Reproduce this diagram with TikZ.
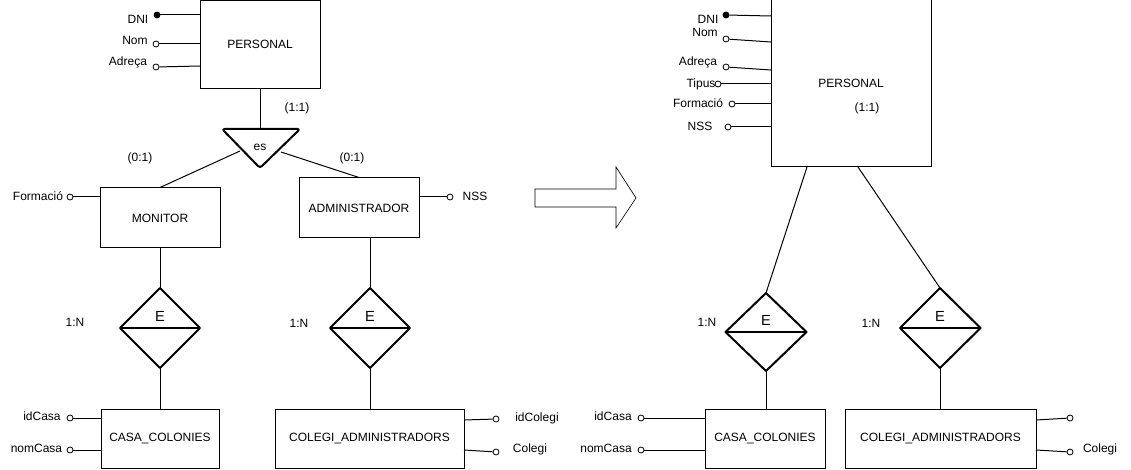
\documentclass[tikz,border=0pt]{standalone}
\usepackage{fontspec}
\setmainfont{Liberation Sans}
\begin{document}
\begin{tikzpicture}[x=0.75pt,y=-0.75pt,
  font=\fontsize{9pt}{11pt}\selectfont,
  ent/.style={draw, line width=0.75pt, inner sep=0pt},
  att/.style={circle, draw, line width=0.6pt, fill=white, inner sep=0pt, minimum size=4.5pt},
  keyatt/.style={att, fill=black},
  lbl/.style={inner sep=0pt, text height=6.5pt, text depth=1.8pt},
  ln/.style={line width=0.75pt},
  rel/.style={line width=1.5pt, line join=round},
  mid/.style={line width=1.1pt},
  bigE/.style={lbl, font=\fontsize{11pt}{13pt}\selectfont}]
\useasboundingbox (0,0) rectangle (1131,470);

% ---------------- LEFT ----------------
\node[ent, minimum width=90pt, minimum height=66pt] (p1) at (260,44.5) {PERSONAL};
\node[keyatt] (a1) at (157,15) {};
\node[lbl] (t1) at (138,20) {DNI};
\draw[ln] (a1) -- (p1.west |- a1);
\node[att] (a2) at (156,44) {};
\node[lbl] (t2) at (135,41) {Nom};
\draw[ln] (a2) -- (p1.west |- a2);
\node[att] (a3) at (156,67) {};
\node[lbl] (t3) at (128,62) {Adreça};
\coordinate (a3e) at (200,66);
\draw[ln] (a3) -- (a3e);

% ISA triangle
\coordinate (tl) at (222,129);
\coordinate (tr) at (300,129);
\coordinate (tb) at (260,168);
\draw[rel, rounded corners=2pt] (tl) -- (tr) -- (tb) -- cycle;
\node[lbl] (es) at (260,147) {es};
\draw[ln] (p1.south) -- (p1.south |- tl);
\coordinate (tsl) at (240,151);
\coordinate (tsr) at (281,152);
\node[lbl] (c11) at (297,108) {(1:1)};
\node[lbl] (c01a) at (140,158) {(0:1)};
\node[lbl] (c01b) at (352,158) {(0:1)};

\node[ent, minimum width=90pt, minimum height=45pt] (mon) at (160,218) {MONITOR};
\node[ent, minimum width=90pt, minimum height=45pt] (adm) at (359,208) {ADMINISTRADOR};
\draw[ln] (tsl) -- (mon.north);
\draw[ln] (tsr) -- (adm.north);

\node[att] (fo1) at (70,197) {};
\node[lbl] (tfo1) at (38,197) {Formació};
\draw[ln] (fo1) -- (mon.west |- fo1);
\node[att] (nss1) at (450,197) {};
\node[lbl] (tnss1) at (475,197) {NSS};
\draw[ln] (adm.east |- nss1) -- (nss1);

% diamonds
\coordinate (d1t) at (160,288); \coordinate (d1b) at (160,368);
\coordinate (d1l) at (120,328); \coordinate (d1r) at (200,328);
\draw[rel] (d1l) -- (d1t) -- (d1r) -- (d1b) -- cycle;
\draw[mid] (d1l) -- (d1r);
\node[bigE] (e1) at (160,318) {E};
\node[lbl] (n1) at (75,323) {1:N};

\coordinate (d2t) at (370,288); \coordinate (d2b) at (370,368);
\coordinate (d2l) at (330,328); \coordinate (d2r) at (410,328);
\draw[rel] (d2l) -- (d2t) -- (d2r) -- (d2b) -- cycle;
\draw[mid] (d2l) -- (d2r);
\node[bigE] (e2) at (370,318) {E};
\node[lbl] (n2) at (299,324) {1:N};

\node[ent, minimum width=88.5pt, minimum height=44.25pt] (casa1) at (160,438.5) {CASA\_COLONIES};
\node[ent, minimum width=141.75pt, minimum height=44.25pt] (col1) at (369.5,438.5) {COLEGI\_ADMINISTRADORS};
\draw[ln] (mon.south) -- (d1t);
\draw[ln] (d1b) -- (casa1.north);
\draw[ln] (d2t |- adm.south) -- (d2t);
\draw[ln] (d2b) -- (d2b |- col1.north);

\node[att] (ic1) at (70,418) {};
\node[lbl] (tic1) at (42,417) {idCasa};
\draw[ln] (ic1) -- (casa1.west |- ic1);
\node[att] (nc1) at (70,450) {};
\node[lbl] (tnc1) at (36.5,449) {nomCasa};
\draw[ln] (nc1) -- (casa1.west |- nc1);

\node[att] (ig1) at (496,419) {};
\node[lbl] (tig1) at (537,418) {idColegi};
\coordinate (ig1s) at (464,420);
\draw[ln] (ig1s) -- (ig1);
\node[att] (cg1) at (496,452) {};
\node[lbl] (tcg1) at (530,449) {Colegi};
\coordinate (cg1s) at (464,450);
\draw[ln] (cg1s) -- (cg1);

% ---------------- ARROW ----------------
\draw[line width=0.5pt, line join=miter] (535,189) -- (616,189) -- (616,167) -- (636,198) -- (616,228) -- (616,207) -- (535,207) -- cycle;

% ---------------- RIGHT ----------------
\node[ent, minimum width=120pt, minimum height=125.25pt] (p2) at (851,83.5) {PERSONAL};
\node[lbl] (c11b) at (867,108) {(1:1)};

\node[keyatt] (b1) at (726,15) {};
\node[lbl] (u1) at (708,20) {DNI};
\coordinate (b1e) at (771,16);
\draw[ln] (b1) -- (b1e);
\node[att] (b2) at (726,39) {};
\node[lbl] (u2) at (705,33) {Nom};
\coordinate (b2e) at (771,42);
\draw[ln] (b2) -- (b2e);
\node[att] (b3) at (726,67) {};
\node[lbl] (u3) at (698,62) {Adreça};
\coordinate (b3e) at (771,70);
\draw[ln] (b3) -- (b3e);
\node[att] (b4) at (718,84) {};
\node[lbl] (u4) at (701,84) {Tipus};
\draw[ln] (b4) -- (p2.west |- b4);
\node[att] (b5) at (732,104) {};
\node[lbl] (u5) at (698,104) {Formació};
\draw[ln] (b5) -- (p2.west |- b5);
\node[att] (b6) at (728,127) {};
\node[lbl] (u6) at (700,127) {NSS};
\draw[ln] (b6) -- (p2.west |- b6);

\coordinate (d3t) at (766,293); \coordinate (d3b) at (766,371);
\coordinate (d3l) at (725.5,332); \coordinate (d3r) at (806.5,332);
\draw[rel] (d3l) -- (d3t) -- (d3r) -- (d3b) -- cycle;
\draw[mid] (d3l) -- (d3r);
\node[bigE] (e3) at (766,322) {E};
\node[lbl] (n3) at (707,323) {1:N};

\coordinate (d4t) at (940,288); \coordinate (d4b) at (940,368);
\coordinate (d4l) at (900,328); \coordinate (d4r) at (980.5,328);
\draw[rel] (d4l) -- (d4t) -- (d4r) -- (d4b) -- cycle;
\draw[mid] (d4l) -- (d4r);
\node[bigE] (e4) at (940,318) {E};
\node[lbl] (n4) at (871,324) {1:N};

\coordinate (p2l) at (807,167);
\coordinate (p2r) at (858,167);
\draw[ln] (p2l) -- (d3t);
\draw[ln] (p2r) -- (d4t);

\node[ent, minimum width=90pt, minimum height=44.25pt] (casa2) at (765,438.5) {CASA\_COLONIES};
\node[ent, minimum width=143.25pt, minimum height=44.25pt] (col2) at (940.5,438.5) {COLEGI\_ADMINISTRADORS};
\draw[ln] (d3b) -- (d3b |- casa2.north);
\draw[ln] (d4b) -- (d4b |- col2.north);

\node[att] (ic2) at (641,418) {};
\node[lbl] (tic2) at (613,417) {idCasa};
\draw[ln] (ic2) -- (casa2.west |- ic2);
\node[att] (nc2) at (641,450) {};
\node[lbl] (tnc2) at (606,449) {nomCasa};
\draw[ln] (nc2) -- (casa2.west |- nc2);

\node[att] (ig2) at (1070,418) {};
\coordinate (ig2s) at (1036,420);
\draw[ln] (ig2s) -- (ig2);
\node[att] (cg2) at (1070,452) {};
\node[lbl] (tcg2) at (1100,449) {Colegi};
\coordinate (cg2s) at (1036,450);
\draw[ln] (cg2s) -- (cg2);
\end{tikzpicture}
\end{document}
